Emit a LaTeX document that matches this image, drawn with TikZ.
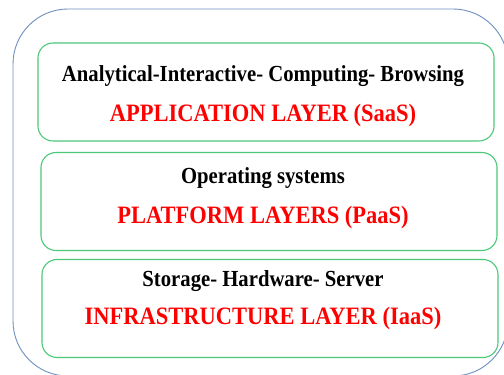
\documentclass[tikz,border=0pt]{standalone}
\usepackage{fontspec}
\setmainfont{Liberation Serif}[FakeStretch=0.9]
\definecolor{outerblue}{HTML}{6E8FC0}
\definecolor{boxgreen}{HTML}{4CC878}
\definecolor{txtred}{HTML}{FF0000}
\begin{document}
\begin{tikzpicture}[x=1pt,y=1pt,
  outerbox/.style={draw=outerblue, line width=0.9pt, rounded corners=55pt, inner sep=0pt},
  layerbox/.style={draw=boxgreen, line width=1.1pt, rounded corners=15pt, minimum width=456pt, minimum height=98pt, inner sep=0pt},
  blacktxt/.style={anchor=base, inner sep=0pt, font=\fontsize{23}{26}\selectfont\bfseries},
  redtxt/.style={anchor=base, inner sep=0pt, text=txtred, font=\fontsize{25}{29}\selectfont\bfseries}]
\useasboundingbox (0,0) rectangle (504,375);
\clip (0,0) rectangle (504,375);
\node[outerbox, minimum width=495pt, minimum height=367pt] (outer) at (260.5,182.5) {};
\node[layerbox] (saas) at (266,283) {};
\node[layerbox] (paas) at (269,173.5) {};
\node[layerbox] (iaas) at (270,66.5) {};
\node[blacktxt] (t1) at (263,293) {Analytical-Interactive- Computing- Browsing};
\node[redtxt] (r1) at (263,253) {APPLICATION LAYER (SaaS)};
\node[blacktxt] (t2) at (263,191) {Operating systems};
\node[redtxt] (r2) at (263,151) {PLATFORM LAYERS (PaaS)};
\node[blacktxt] (t3) at (263,88) {Storage- Hardware- Server};
\node[redtxt] (r3) at (263,50) {INFRASTRUCTURE LAYER (IaaS)};
\end{tikzpicture}
\end{document}
